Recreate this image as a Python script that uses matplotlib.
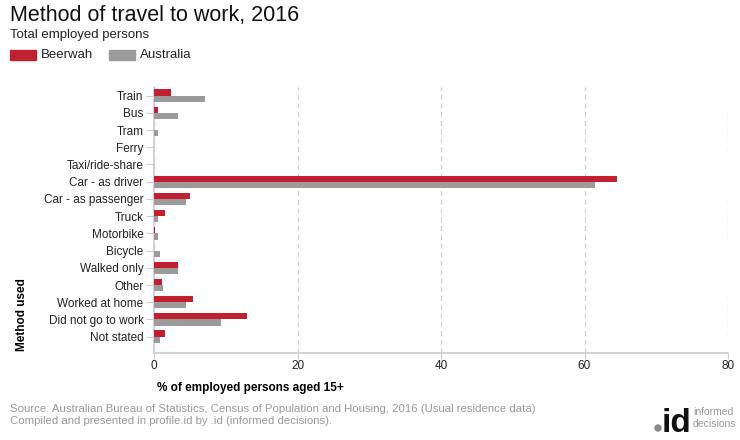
import matplotlib
matplotlib.use("Agg")
import matplotlib.pyplot as plt
from matplotlib.patches import Ellipse
import numpy as np

plt.rcParams['font.family'] = ['Liberation Sans', 'DejaVu Sans']

categories = ["Train", "Bus", "Tram", "Ferry", "Taxi/ride-share", "Car - as driver",
              "Car - as passenger", "Truck", "Motorbike", "Bicycle", "Walked only",
              "Other", "Worked at home", "Did not go to work", "Not stated"]
beerwah = [2.3, 0.6, 0.0, 0.0, 0.0, 64.5, 5.0, 1.5, 0.2, 0.05, 3.3, 1.05, 5.5, 13.0, 1.6]
australia = [7.05, 3.4, 0.5, 0.0, 0.0, 61.4, 4.4, 0.6, 0.5, 0.9, 3.3, 1.2, 4.5, 9.3, 0.9]
xticks = [0, 20, 40, 60, 80]

RED = "#c0202f"
GRAY = "#9b9b9b"

fig = plt.figure(figsize=(7.4, 4.4), dpi=100)
W, H = 740, 440
top_px, bot_px = 87, 352.5
ax = fig.add_axes([154 / W, 1 - bot_px / H, (728 - 154) / W, (bot_px - top_px) / H])

n = len(categories)
y = np.arange(n)
bh = 0.36
ax.barh(y - bh / 2, beerwah, height=bh, color=RED, zorder=3)
ax.barh(y + bh / 2, australia, height=bh, color=GRAY, zorder=3)

ax.set_ylim(n - 0.5 + 0.42, -0.5)
ax.set_xlim(0, 80)
ax.set_yticks(y)
ax.set_yticklabels(categories, fontsize=8.5, color="#222222")
ax.set_xticks(xticks)
ax.set_xticklabels([str(t) for t in xticks], fontsize=8.5, color="#222222")

ax.grid(axis='x', color="#d0d0d0", linestyle=(0, (4, 3)), linewidth=0.9, zorder=0)
for s in ["top", "right"]:
    ax.spines[s].set_visible(False)
ax.spines["left"].set_color("#cccccc")
ax.spines["bottom"].set_color("#cccccc")
ax.spines["left"].set_linewidth(1.2)
ax.spines["bottom"].set_linewidth(1.2)
ax.tick_params(axis='y', length=6, color="#cccccc", pad=1.5)
ax.tick_params(axis='x', length=4, color="#cccccc", pad=1.5)

ax.set_xlabel("% of employed persons aged 15+", fontsize=8.5, fontweight='bold')
ax.xaxis.set_label_coords(0.005, -0.11)
ax.xaxis.label.set_horizontalalignment('left')

fig.text(22 / W, 1 - 315 / H, "Method used", rotation=90, fontsize=8.5,
         fontweight='bold', ha='center', va='center')

fig.text(10 / W, 1 - 15 / H, "Method of travel to work, 2016", fontsize=15.5,
         ha='left', va='center', color="#111111")
fig.text(10 / W, 1 - 35 / H, "Total employed persons", fontsize=9.5,
         ha='left', va='center', color="#222222")

# legend
fig.patches.append(plt.Rectangle((10 / W, 1 - 60 / H), 26 / W, 10 / H,
                                 transform=fig.transFigure, color=RED))
fig.text(41 / W, 1 - 55 / H, "Beerwah", fontsize=9.5, ha='left', va='center', color="#222222")
fig.patches.append(plt.Rectangle((109 / W, 1 - 60 / H), 26 / W, 10 / H,
                                 transform=fig.transFigure, color=GRAY))
fig.text(140 / W, 1 - 55 / H, "Australia", fontsize=9.5, ha='left', va='center', color="#222222")

fig.text(10 / W, 1 - 409 / H,
         "Source: Australian Bureau of Statistics, Census of Population and Housing, 2016 (Usual residence data)",
         fontsize=8.2, color="#999999", ha='left', va='center')
fig.text(10 / W, 1 - 421 / H,
         "Compiled and presented in profile.id by .id (informed decisions).",
         fontsize=8.2, color="#999999", ha='left', va='center')

# logo
fig.patches.append(Ellipse((658 / W, 1 - 428 / H), 6 / W, 6 / H,
                           transform=fig.transFigure, color="#8a8a8a"))
fig.text(662 / W, 1 - 432 / H, "id", fontsize=24, fontweight='bold', color="#111111",
         family=['Liberation Sans Narrow', 'Liberation Sans'], ha='left', va='baseline')
fig.text(693 / W, 1 - 412 / H, "informed", fontsize=7.5, color="#999999", ha='left', va='center')
fig.text(693 / W, 1 - 424 / H, "decisions", fontsize=7.5, color="#999999", ha='left', va='center')

fig.savefig("out.png", dpi=100)
